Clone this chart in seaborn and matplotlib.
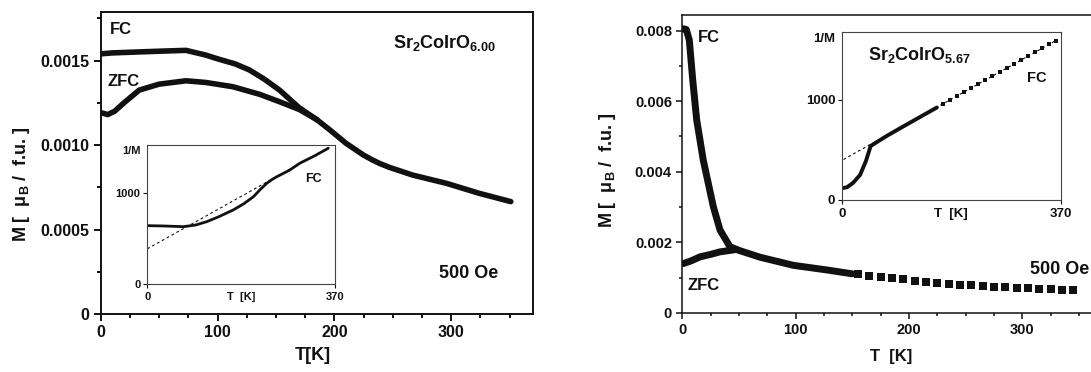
import numpy as np
import pandas as pd
import matplotlib
matplotlib.use("Agg")
import matplotlib.pyplot as plt
import seaborn as sns
from matplotlib.ticker import MultipleLocator

# ---------------- data ----------------
# Left panel: Sr2CoIrO6.00, M vs T
L_fc_T = [1, 10, 30, 50, 73, 90, 100, 115, 127, 140, 153, 170, 185, 196, 210, 225, 233, 239, 247, 267, 296, 324, 351]
L_fc_M = [0.00154, 0.001545, 0.00155, 0.001555, 0.00156, 0.001532, 0.00151, 0.00148, 0.001445, 0.00139,
          0.001325, 0.00122, 0.00115, 0.00109, 0.00101, 0.00094, 0.00091, 0.00089, 0.000868, 0.000822,
          0.000773, 0.000714, 0.000665]
L_zfc_T = [1, 6, 12, 20, 33, 50, 73, 90, 113, 136, 153, 170, 185]
L_zfc_M = [0.00119, 0.00118, 0.0012, 0.00125, 0.001325, 0.00136, 0.00138, 0.00137, 0.001345, 0.0013,
           0.001256, 0.00121, 0.00115]
# Left inset: 1/M vs T (FC) and linear fit
Li_T = [2, 30, 71, 95, 117, 140, 169, 190, 209, 222, 235, 245, 255, 268, 280, 300, 330, 356]
Li_V = [643, 640, 632, 650, 687, 740, 816, 885, 963, 1040, 1110, 1150, 1183, 1220, 1255, 1331, 1415, 1496]
Li_fit_T = [0, 360]
Li_fit_V = [388, 1514]

# Right panel: Sr2CoIrO5.67, M vs T
R_fc_T = [1, 3.5, 6.2, 9.2, 12.7, 18.5, 27.4, 33.3, 42, 49.4, 68.6, 98, 127.4, 150]
R_fc_M = [0.00805, 0.00803, 0.00773, 0.0066, 0.00547, 0.00433, 0.00301, 0.00235, 0.00188, 0.00178,
          0.00158, 0.00135, 0.00122, 0.00111]
R_zfc_T = [1, 8, 15.6, 25, 33, 48]
R_zfc_M = [0.0014, 0.00148, 0.00159, 0.00166, 0.00173, 0.0018]
R_sq_T = [155, 165, 175, 185, 195, 205, 215, 225, 235, 245, 255, 265, 275, 285, 295, 305, 315, 325, 335, 345]
R_sq_M = [0.0011, 0.00106, 0.00102, 0.00098, 0.00095, 0.00092, 0.00089, 0.00086, 0.00083, 0.0008,
          0.00078, 0.00076, 0.000745, 0.00073, 0.000715, 0.0007, 0.00069, 0.00068, 0.000665, 0.00065]
# Right inset
Ri_T = [2, 8, 18, 30, 40, 48, 60, 75, 100, 130, 160]
Ri_V = [120, 128, 170, 250, 390, 540, 585, 640, 725, 825, 925]
Ri_sq_T = [170, 182, 194, 206, 218, 230, 242, 254, 266, 278, 290, 302, 314, 326, 338, 350, 362]
Ri_sq_V = [960, 1000, 1040, 1080, 1120, 1158, 1198, 1238, 1278, 1317, 1357, 1396, 1436, 1476, 1515, 1555, 1594]
Ri_fit_T = [2, 363]
Ri_fit_V = [405, 1600]

# tick labels
L_xticks = [0, 100, 200, 300]
L_yticks = [0, 0.0005, 0.0010, 0.0015]
L_yticklabels = ["0", "0.0005", "0.0010", "0.0015"]
R_xticks = [0, 100, 200, 300]
R_yticks = [0, 0.002, 0.004, 0.006, 0.008]
R_yticklabels = ["0", "0.002", "0.004", "0.006", "0.008"]
Li_xticks = [0, 185, 370]
Li_xticklabels = ["0", "T  [K]", "370"]
Li_yticks = [0, 1000, 1477]
Li_yticklabels = ["0", "1000", "1/M"]
Ri_xticks = [0, 184, 370]
Ri_xticklabels = ["0", "T  [K]", "370"]
Ri_yticks = [0, 1000, 1620]
Ri_yticklabels = ["0", "1000", "1/M"]

# ---------------- style ----------------
sns.set_theme(style="ticks")
plt.rcParams["font.family"] = ["Liberation Sans", "DejaVu Sans"]
plt.rcParams["font.weight"] = "bold"
plt.rcParams["mathtext.fontset"] = "custom"
plt.rcParams["mathtext.rm"] = "Liberation Sans:bold"
plt.rcParams["mathtext.it"] = "Liberation Sans:bold"
plt.rcParams["mathtext.bf"] = "Liberation Sans:bold"

K = "#111111"
W, H = 1091, 372
fig = plt.figure(figsize=(W / 100, H / 100), dpi=100)
fig.patch.set_facecolor("white")


def fx(px):
    return px / W


def fy(py):
    return 1 - py / H


def style_axes(ax, lw, maj, mino, fs, pad):
    for s in ax.spines.values():
        s.set_linewidth(lw)
        s.set_color(K)
    ax.tick_params(which="major", direction="out", length=maj, width=lw, labelsize=fs, pad=pad, colors=K)
    ax.tick_params(which="minor", direction="out", length=mino, width=lw, colors=K)
    for lab in ax.get_xticklabels() + ax.get_yticklabels():
        lab.set_fontweight("bold")
    ax.set_facecolor("white")
    ax.grid(False)


# ---------------- left main ----------------
axL = fig.add_axes([fx(100.7), fy(314), (533 - 100.7) / W, (314 - 12) / H])
sns.lineplot(x=L_fc_T, y=L_fc_M, ax=axL, color=K, lw=4.0, estimator=None, sort=False)
sns.lineplot(x=L_zfc_T, y=L_zfc_M, ax=axL, color=K, lw=4.0, estimator=None, sort=False)
axL.set_xlim(0, 370)
axL.set_ylim(0, 0.001787)
axL.set_xticks(L_xticks)
axL.set_xticklabels([str(t) for t in L_xticks])
axL.set_yticks(L_yticks)
axL.set_yticklabels(L_yticklabels)
axL.xaxis.set_minor_locator(MultipleLocator(25))
axL.yaxis.set_minor_locator(MultipleLocator(0.00025))
axL.set_xlabel("")
axL.set_ylabel("")
style_axes(axL, 1.4, 5, 3, 11.5, 3)

# left inset
axLi = fig.add_axes([fx(147.3), fy(284), 188 / W, (284 - 145.3) / H])
sns.lineplot(x=Li_fit_T, y=Li_fit_V, ax=axLi, color=K, lw=0.8, ls=(0, (2.5, 2.5)), estimator=None)
sns.lineplot(x=Li_T, y=Li_V, ax=axLi, color=K, lw=2.0, estimator=None, sort=False)
axLi.set_xlim(0, 370)
axLi.set_ylim(0, 1529)
axLi.set_xticks(Li_xticks)
axLi.set_xticklabels(Li_xticklabels)
axLi.set_yticks(Li_yticks)
axLi.set_yticklabels(Li_yticklabels)
axLi.set_xlabel("")
axLi.set_ylabel("")
style_axes(axLi, 0.8, 3, 2, 8, 2)
for s in axLi.spines.values():
    s.set_color("#444444")
axLi.yaxis.get_major_ticks()[2].tick1line.set_visible(False)
axLi.xaxis.get_major_ticks()[1].tick1line.set_visible(False)
axLi.tick_params(axis="x", which="major", pad=3)

# ---------------- right main ----------------
axR = fig.add_axes([fx(682.3), fy(313), (370 * 1.133) / W, (313 - 15) / H])
sns.lineplot(x=R_fc_T, y=R_fc_M, ax=axR, color=K, lw=5.0, estimator=None, sort=False)
sns.lineplot(x=R_zfc_T, y=R_zfc_M, ax=axR, color=K, lw=5.0, estimator=None, sort=False)
sns.scatterplot(x=R_sq_T, y=R_sq_M, ax=axR, color=K, marker="s", s=40, linewidth=0)
axR.set_xlim(0, 370)
axR.set_ylim(0, 0.00844)
axR.set_xticks(R_xticks)
axR.set_xticklabels([str(t) for t in R_xticks])
axR.set_yticks(R_yticks)
axR.set_yticklabels(R_yticklabels)
axR.xaxis.set_minor_locator(MultipleLocator(25))
axR.yaxis.set_minor_locator(MultipleLocator(0.001))
axR.set_xlabel("")
axR.set_ylabel("")
style_axes(axR, 1.1, 4, 2.5, 10.5, 3.5)

# right inset
axRi = fig.add_axes([fx(842.3), fy(200), 218.7 / W, (200 - 31.7) / H])
sns.lineplot(x=Ri_fit_T, y=Ri_fit_V, ax=axRi, color=K, lw=0.8, ls=(0, (2.5, 2.5)), estimator=None)
sns.lineplot(x=Ri_T, y=Ri_V, ax=axRi, color=K, lw=2.8, estimator=None, sort=False)
sns.scatterplot(x=Ri_sq_T, y=Ri_sq_V, ax=axRi, color=K, marker="s", s=9, linewidth=0)
axRi.set_xlim(0, 370)
axRi.set_ylim(0, 1683)
axRi.set_xticks(Ri_xticks)
axRi.set_xticklabels(Ri_xticklabels)
axRi.set_yticks(Ri_yticks)
axRi.set_yticklabels(Ri_yticklabels)
axRi.set_xlabel("")
axRi.set_ylabel("")
style_axes(axRi, 0.8, 3, 2, 9.5, 2)
for s in axRi.spines.values():
    s.set_color("#444444")
axRi.yaxis.get_major_ticks()[2].tick1line.set_visible(False)
axRi.xaxis.get_major_ticks()[1].tick1line.set_visible(False)
axRi.tick_params(axis="x", which="major", pad=3)

# ---------------- texts ----------------
tk = dict(color=K, fontweight="bold")
ylab = r"M [  μ$_{\mathrm{B}}$ /  f.u. ]"
fig.text(fx(121), fy(30), "FC", ha="center", va="center", fontsize=12, **tk)
fig.text(fx(123.5), fy(82), "ZFC", ha="center", va="center", fontsize=12, **tk)
fig.text(fx(393), fy(48), r"Sr$_{2}$CoIrO$_{6.00}$", ha="left", va="baseline", fontsize=13, **tk)
fig.text(fx(468.8), fy(274), "500 Oe", ha="center", va="center", fontsize=13, **tk)
fig.text(fx(22), fy(184), ylab, rotation=90, ha="center", va="center", fontsize=13, **tk)
fig.text(fx(313), fy(355), "T[K]", ha="center", va="center", fontsize=13, **tk)
fig.text(fx(313), fy(179), "FC", ha="center", va="center", fontsize=9, **tk)

fig.text(fx(709), fy(38), "FC", ha="center", va="center", fontsize=12, **tk)
fig.text(fx(704), fy(286), "ZFC", ha="center", va="center", fontsize=12, **tk)
fig.text(fx(1030), fy(269), "500 Oe", ha="left", va="center", fontsize=13, **tk)
fig.text(fx(607), fy(170), ylab, rotation=90, ha="center", va="center", fontsize=13, **tk)
fig.text(fx(890.7), fy(357), "T  [K]", ha="center", va="center", fontsize=12, **tk)
fig.text(fx(868), fy(60), r"Sr$_{2}$CoIrO$_{5.67}$", ha="left", va="baseline", fontsize=13, **tk)
fig.text(fx(1037), fy(78), "FC", ha="center", va="center", fontsize=10.5, **tk)

fig.savefig("out.png", dpi=100, facecolor="white")
